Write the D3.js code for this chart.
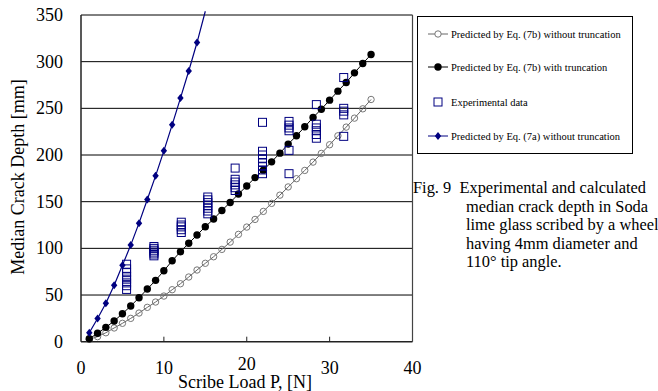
<!DOCTYPE html>
<html>
<head>
<meta charset="utf-8">
<script src="https://cdnjs.cloudflare.com/ajax/libs/d3/7.8.5/d3.min.js"></script>
<style>
  body { margin: 0; background: #fff; }
  svg text { font-family: "Liberation Serif", "Times New Roman", serif; fill: #000; }
</style>
</head>
<body>
<div id="chart"></div>
<script>
// scribe load P [N] for the model curves
var loads = [1, 2, 3, 4, 5, 6, 7, 8, 9, 10, 11, 12, 13, 14, 15, 16, 17, 18, 19, 20,
             21, 22, 23, 24, 25, 26, 27, 28, 29, 30, 31, 32, 33, 34, 35];

// Eq. (7b) without truncation
var eq7bWithout = [2.6, 5.4, 9.6, 14.7, 19.7, 25, 30.7, 36.8, 42.5, 48.9, 55.7, 62.1, 69.3, 76.8, 84,
                   91, 98.9, 106.7, 115, 122.8, 131, 139.6, 148.2, 157, 165.8, 174.6, 183.5, 192.4,
                   201.7, 211, 220.6, 229.9, 239.5, 249.5, 259.5];

// Eq. (7b) with truncation
var eq7bWith = [3.2, 9, 15.4, 22.2, 30, 38.2, 47.1, 56.4, 65.7, 76, 86.7, 96.4, 105.4, 114.3, 123.2,
                131.4, 140.6, 149.2, 158.2, 166.8, 175.8, 183.8, 192.7, 202, 211.7, 220.6, 230.2,
                240.2, 249.1, 258.8, 268.4, 277.7, 288, 298, 307.7];

// Eq. (7a) without truncation (first 15 loads)
var eq7a = [9.6, 24.9, 41.1, 60.4, 81.8, 103.5, 127, 152.3, 177.7, 204.5, 232.3, 261, 290, 320.5, 354];

// experimental data
var expLoad = [5.5, 5.5, 5.5, 5.5, 5.5, 5.5, 5.5, 5.5,
               8.8, 8.8, 8.8, 8.8, 8.8, 8.8,
               12.1, 12.1, 12.1, 12.1, 12.1,
               15.3, 15.3, 15.3, 15.3, 15.3, 15.3, 15.3,
               18.6, 18.6, 18.6, 18.6, 18.6, 18.6,
               21.9, 21.9, 21.9, 21.9, 21.9, 21.9, 21.9, 21.9,
               25.1, 25.1, 25.1, 25.1, 25.1, 25.1,
               28.4, 28.4, 28.4, 28.4, 28.4, 28.4,
               31.7, 31.7, 31.7, 31.7, 31.7];
var expDepth = [56, 60, 63, 67, 70, 74, 78, 83,
                92, 94, 96, 98, 100, 102,
                117, 120, 123, 125, 128,
                137, 140, 143, 146, 149, 152, 155,
                162, 165, 168, 171, 174, 186,
                180, 184, 188, 192, 196, 200, 204, 235,
                180, 205, 226, 229, 232, 236,
                218, 222, 226, 229, 233, 254,
                220, 243, 247, 250, 283];

var xTicks = [0, 10, 20, 30, 40];
var yTicks = [0, 50, 100, 150, 200, 250, 300, 350];

var legendLabels = ["Predicted by Eq. (7b) without truncation",
                    "Predicted by Eq. (7b) with truncation",
                    "Experimental data",
                    "Predicted by Eq. (7a) without truncation"];

var captionLines = ["Fig. 9  Experimental and calculated",
                    "median crack depth in Soda",
                    "lime glass scribed by a wheel",
                    "having 4mm diameter and",
                    "110\u00b0 tip angle."];

var width = 658, height = 391;
var navy = "#000080";

var svg = d3.select("#chart").append("svg")
    .attr("width", width)
    .attr("height", height);

var x = d3.scaleLinear().domain([0, 40]).range([81, 412.5]);
var y = d3.scaleLinear().domain([0, 350]).range([341.7, 15]);

// gridlines
svg.append("g")
    .selectAll("line")
    .data(yTicks.slice(1))
    .enter().append("line")
    .attr("x1", x(0)).attr("x2", x(40))
    .attr("y1", function(d) { return y(d); })
    .attr("y2", function(d) { return y(d); })
    .attr("stroke", "#000")
    .attr("stroke-width", 1);

// frame
svg.append("line").attr("x1", x(40)).attr("x2", x(40)).attr("y1", y(350)).attr("y2", y(0))
    .attr("stroke", "#444").attr("stroke-width", 1.2);
svg.append("line").attr("x1", x(0)).attr("x2", x(0)).attr("y1", y(350)).attr("y2", y(0))
    .attr("stroke", "#222").attr("stroke-width", 1.5);
svg.append("line").attr("x1", x(0)).attr("x2", x(40)).attr("y1", y(0)).attr("y2", y(0))
    .attr("stroke", "#222").attr("stroke-width", 1.5);

// x ticks (inside)
svg.append("g").selectAll("line")
    .data(xTicks.slice(1, 4))
    .enter().append("line")
    .attr("x1", function(d) { return x(d); })
    .attr("x2", function(d) { return x(d); })
    .attr("y1", y(0)).attr("y2", y(0) - 5)
    .attr("stroke", "#222");

// tick labels
svg.append("g").selectAll("text")
    .data(xTicks)
    .enter().append("text")
    .attr("x", function(d) { return x(d); })
    .attr("y", function(d) { return d === 20 ? 370 : 374; })
    .attr("text-anchor", "middle")
    .style("font-size", "18px")
    .text(function(d) { return d; });

svg.append("g").selectAll("text")
    .data(yTicks)
    .enter().append("text")
    .attr("x", 63)
    .attr("y", function(d) { return y(d) + 6; })
    .attr("text-anchor", "end")
    .style("font-size", "18px")
    .text(function(d) { return d; });

// axis titles
svg.append("text")
    .attr("x", 245).attr("y", 388)
    .attr("text-anchor", "middle")
    .style("font-size", "18px")
    .text("Scribe Load P, [N]");

svg.append("text")
    .attr("transform", "translate(24,177) rotate(-90)")
    .attr("text-anchor", "middle")
    .style("font-size", "18px")
    .text("Median Crack Depth [mm]");

// series
var line = d3.line()
    .x(function(d) { return x(d[0]); })
    .y(function(d) { return y(d[1]); });

var open = loads.map(function(p, i) { return [p, eq7bWithout[i]]; });
var filled = loads.map(function(p, i) { return [p, eq7bWith[i]]; });
var blue = eq7a.map(function(v, i) { return [loads[i], v]; });
var exper = expLoad.map(function(p, i) { return [p, expDepth[i]]; });

var diamond = "M0,-4L3.2,0L0,4L-3.2,0Z";

svg.append("path").datum(open)
    .attr("d", line).attr("fill", "none")
    .attr("stroke", "#666").attr("stroke-width", 1);
svg.append("g").selectAll("circle")
    .data(open).enter().append("circle")
    .attr("cx", function(d) { return x(d[0]); })
    .attr("cy", function(d) { return y(d[1]); })
    .attr("r", 3.2)
    .attr("fill", "none")
    .attr("stroke", "#777").attr("stroke-width", 1);

svg.append("path").datum(filled)
    .attr("d", line).attr("fill", "none")
    .attr("stroke", "#000").attr("stroke-width", 1);
svg.append("g").selectAll("circle")
    .data(filled).enter().append("circle")
    .attr("cx", function(d) { return x(d[0]); })
    .attr("cy", function(d) { return y(d[1]); })
    .attr("r", 3.7)
    .attr("fill", "#000");

svg.append("g").selectAll("rect")
    .data(exper).enter().append("rect")
    .attr("x", function(d) { return x(d[0]) - 4; })
    .attr("y", function(d) { return y(d[1]) - 4; })
    .attr("width", 8).attr("height", 8)
    .attr("fill", "none")
    .attr("stroke", navy).attr("stroke-width", 1);

svg.append("path").datum(blue)
    .attr("d", line).attr("fill", "none")
    .attr("stroke", navy).attr("stroke-width", 1.2);
svg.append("g").selectAll("path")
    .data(blue.filter(function(d) { return d[1] <= 350; }))
    .enter().append("path")
    .attr("d", diamond)
    .attr("transform", function(d) { return "translate(" + x(d[0]) + "," + y(d[1]) + ")"; })
    .attr("fill", navy);

// legend
var lg = svg.append("g");
lg.append("rect")
    .attr("x", 417.5).attr("y", 16.5)
    .attr("width", 215).attr("height", 137)
    .attr("fill", "#fff").attr("stroke", "#000").attr("stroke-width", 1);

var legendY = [34, 67, 102, 136];
legendLabels.forEach(function(label, i) {
    var ly = legendY[i];
    if (i !== 2) {
        lg.append("line").attr("x1", 428).attr("x2", 448).attr("y1", ly).attr("y2", ly)
            .attr("stroke", i === 0 ? "#666" : (i === 1 ? "#000" : navy)).attr("stroke-width", 1);
    }
    if (i === 0) {
        lg.append("circle").attr("cx", 438).attr("cy", ly).attr("r", 3.2)
            .attr("fill", "#fff").attr("stroke", "#777");
    } else if (i === 1) {
        lg.append("circle").attr("cx", 438).attr("cy", ly).attr("r", 3.7).attr("fill", "#000");
    } else if (i === 2) {
        lg.append("rect").attr("x", 434).attr("y", ly - 4).attr("width", 8).attr("height", 8)
            .attr("fill", "none").attr("stroke", navy);
    } else {
        lg.append("path").attr("d", diamond)
            .attr("transform", "translate(438," + ly + ")").attr("fill", navy);
    }
    lg.append("text")
        .attr("x", 451).attr("y", ly + 3.5)
        .style("font-size", "10.5px")
        .text(label);
});

// caption
var cap = svg.append("g");
captionLines.forEach(function(t, i) {
    cap.append("text")
        .attr("x", i === 0 ? 413 : 466)
        .attr("y", 193 + i * 18.6)
        .style("font-size", "16.4px")
        .attr("xml:space", "preserve")
        .style("white-space", "pre")
        .text(t);
});
</script>
</body>
</html>
